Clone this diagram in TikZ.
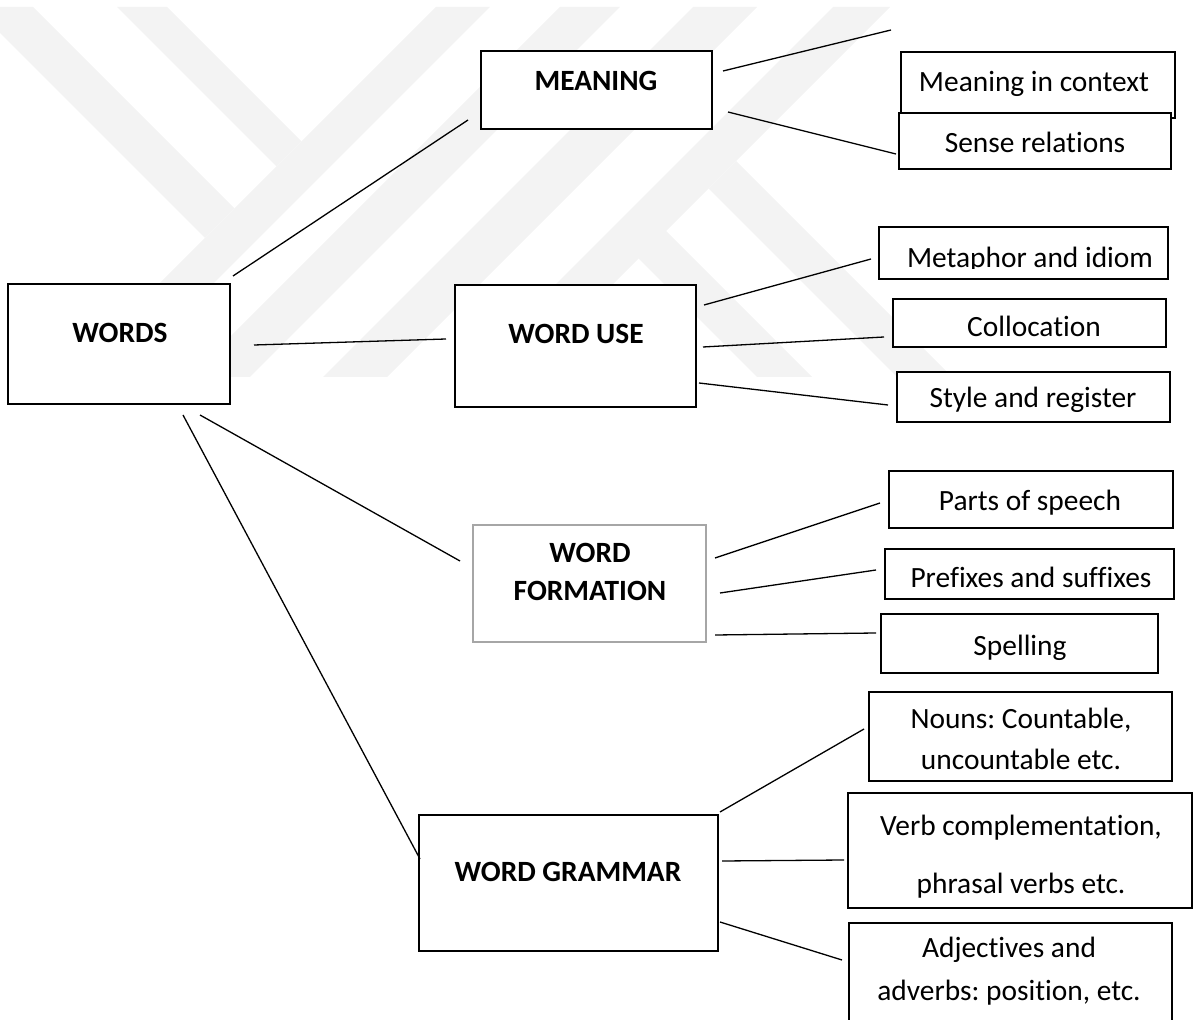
\documentclass[tikz,border=0pt]{standalone}
\usepackage{fontspec}
\setmainfont{Carlito}[Ligatures=NoCommon]
\usetikzlibrary{fit}

\definecolor{markgray}{RGB}{243,243,243}
\definecolor{framegray}{RGB}{166,166,166}
\newcommand{\mapfont}{\fontsize{14.7}{17.6}\selectfont\frenchspacing}

\tikzset{
  box/.style={draw, line width=1pt, fill=white, inner sep=0pt},
  head/.style={font=\mapfont\bfseries, anchor=base, inner sep=0pt},
  item/.style={font=\mapfont, anchor=base, inner sep=0pt},
  link/.style={line width=0.65pt},
  stripe/.style={fill=markgray}
}

\begin{document}
\begin{tikzpicture}[x=0.5pt, y=-0.5pt]
  \useasboundingbox (0,0) rectangle (1193,1020);
  \clip (0,0) rectangle (1193,1020);

  % watermark
  \fill[stripe] (-26,7) -- (33,7) -- (234.5,208.5) -- (205,238) -- cycle;
  \fill[stripe] (117,7) -- (167,7) -- (301.5,141.5) -- (276.5,166.5) -- cycle;
  \foreach \a/\b in {443/497, 567/627, 700/764, 840/897}
    \fill[stripe] ({\a-7},7) -- ({\b-7},7) -- ({\b-377},377) -- ({\a-377},377) -- cycle;
  \fill[stripe] (708.5,188.5) -- (736,161) -- (952,377) -- (897,377) -- cycle;
  \fill[stripe] (637,257) -- (664.5,229.5) -- (812,377) -- (757,377) -- cycle;

  % main boxes
  \node[box, fit={(8,284) (230,404)}] (words) {};
  \node[box, fit={(481,51) (712,129)}] (meaning) {};
  \node[box, fit={(455,285) (696,407)}] (worduse) {};
  \node[box, draw=framegray, fit={(473,525) (706,642)}] (wordform) {};
  \node[box, fit={(419,815) (718,951)}] (wordgram) {};

  \node[head] (wordsT) at (120,343) {WORDS};
  \node[head] (meaningT) at (596,91) {MEANING};
  \node[head] (worduseT) at (576,344) {WORD USE};
  \node[head] (wordformT) at (590,563) {WORD};
  \node[head] (wordformB) at (590,601) {FORMATION};
  \node[head] (wordgramT) at (568,881) {WORD GRAMMAR};

  % meaning
  \node[box, fit={(901,52) (1175,118)}] (ctx) {};
  \node[item] (ctxT) at (1034,92) {Meaning in context};
  \node[box, fit={(899,113) (1171,169)}] (sense) {};
  \node[item] (senseT) at (1035,153) {Sense relations};

  % word use
  \node[box, fit={(879,227) (1168,279)}] (metaph) {};
  \node[box, fit={(893,299) (1166,347)}] (colloc) {};
  \node[box, fit={(897,372) (1170,422)}] (style) {};
  \begin{scope}
    \clip (879,227) rectangle (1168,268.5);
    \node[item] (metaphT) at (1030,268) {Metaphor and idiom};
  \end{scope}
  \begin{scope}
    \clip (893,299) rectangle (1166,337.5);
    \node[item] (collocT) at (1034,337) {Collocation};
  \end{scope}
  \node[item] (styleT) at (1033,408) {Style and register};

  % word formation
  \node[box, fit={(889,471) (1173,528)}] (parts) {};
  \node[item] (partsT) at (1030,511) {Parts of speech};
  \node[box, fit={(885,549) (1174,599)}] (prefix) {};
  \node[item] (prefixT) at (1031,588) {Prefixes and suffixes};
  \node[box, fit={(881,614) (1158,673)}] (spell) {};
  \node[item] (spellT) at (1020,655) {Spelling};

  % word grammar
  \node[box, fit={(869,692) (1172,781)}] (nouns) {};
  \node[item] (nounsT) at (1021,728) {Nouns: Countable,};
  \node[item] (nounsB) at (1021,769) {uncountable etc.};
  \node[box, fit={(848,793) (1192,908)}] (verb) {};
  \node[item] (verbT) at (1021,835) {Verb complementation,};
  \node[item] (verbB) at (1021,893) {phrasal verbs etc.};
  \node[box, fit={(849,923) (1172,1040)}] (adj) {};
  \node[item] (adjT) at (1009,957) {Adjectives and};
  \node[item] (adjB) at (1009,1000) {adverbs: position, etc.};

  % connectors from WORDS
  \draw[link] ([shift={(2,-7)}]words.north east) -- ([shift={(-12,-10)}]meaning.south west);
  \draw[link] ([shift={(23,1)}]words.east) -- ([shift={(-8,-7)}]worduse.west);
  \draw[link] ([shift={(-31,10)}]words.south east) -- ([shift={(-12,-22.5)}]wordform.west);
  \draw[link] ([shift={(-48,10)}]words.south east) -- ([shift={(2,-24)}]wordgram.west);

  % connectors to the right
  \draw[link] ([shift={(10,-19)}]meaning.east) -- ([shift={(-9,-21)}]ctx.north west);
  \draw[link] ([shift={(15,22)}]meaning.east) -- ([shift={(-2,13)}]sense.west);
  \draw[link] ([shift={(7,-41)}]worduse.east) -- ([shift={(-7,6)}]metaph.west);
  \draw[link] ([shift={(6,1)}]worduse.east) -- ([shift={(-8,14)}]colloc.west);
  \draw[link] ([shift={(2,37)}]worduse.east) -- ([shift={(-8,8)}]style.west);
  \draw[link] ([shift={(8,-25.5)}]wordform.east) -- ([shift={(-8,3.5)}]parts.west);
  \draw[link] ([shift={(13,9.5)}]wordform.east) -- ([shift={(-8,-4)}]prefix.west);
  \draw[link] ([shift={(8,51.5)}]wordform.east) -- ([shift={(-4,-10.5)}]spell.west);
  \draw[link] ([shift={(1,-2)}]wordgram.north east) -- ([shift={(-4,-7.5)}]nouns.west);
  \draw[link] ([shift={(3,-22)}]wordgram.east) -- ([shift={(-3,9.5)}]verb.west);
  \draw[link] ([shift={(1,39)}]wordgram.east) -- ([shift={(-6,-21.5)}]adj.west);
\end{tikzpicture}
\end{document}
